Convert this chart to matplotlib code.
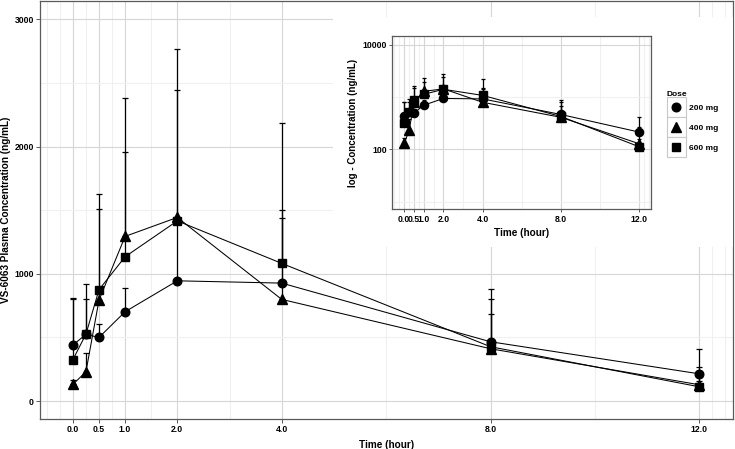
import numpy as np
import matplotlib
matplotlib.use("Agg")
import matplotlib.pyplot as plt
from matplotlib.patches import Rectangle
from matplotlib.lines import Line2D
from matplotlib.legend_handler import HandlerBase
from matplotlib.ticker import FixedLocator, NullFormatter

plt.rcParams['font.family'] = ['Liberation Sans', 'DejaVu Sans']

# donnees
time = [0, 0.25, 0.5, 1, 2, 4, 8, 12]
doses = ["200 mg", "400 mg", "600 mg"]
conc_200 = [440, 524, 500, 702, 945, 927, 466, 214]
conc_400 = [131, 230, 793, 1294, 1443, 799, 411, 128]
conc_600 = [325, 526, 875, 1134, 1416, 1082, 427, 112]
upper_200 = [807, 921, 605, 885, 1430, 1503, 877, 411]
upper_400 = [165, 379, 1508, 2378, 2765, 1435, 681, 269]
upper_600 = [800, 799, 1628, 1956, 2443, 2186, 799, 160]

xticks = [0, 0.5, 1, 2, 4, 8, 12]
xticklabels = ["0.0", "0.5", "1.0", "2.0", "4.0", "8.0", "12.0"]
xminor = [-0.5, -0.25, 0.25, 0.75, 1.5, 3, 6, 10, 12.25, 12.5]

series = [conc_200, conc_400, conc_600]
uppers = [upper_200, upper_400, upper_600]
markers = ['o', '^', 's']
msizes = [6.2, 7.2, 5.4]

border = '#5a5a5a'
major = '#d6d6d6'
minor = '#f0f0f0'


def style(ax, ticklen):
    for s in ax.spines.values():
        s.set_color(border)
        s.set_linewidth(0.9)
    ax.grid(which='major', color=major, lw=0.8)
    ax.grid(which='minor', color=minor, lw=0.8)
    ax.set_axisbelow(True)
    ax.tick_params(which='major', length=ticklen, width=0.7, color=border,
                   labelsize=6.2, labelcolor='black', pad=1.5)
    ax.tick_params(which='minor', length=0)
    for lab in ax.get_xticklabels() + ax.get_yticklabels():
        lab.set_fontweight('bold')


def draw(ax, cap, ms_scale):
    for y, up, m, ms in zip(series, uppers, markers, msizes):
        y = np.array(y, dtype=float)
        up = np.array(up, dtype=float)
        ax.plot(time, y, color='black', lw=0.75, zorder=3)
        ax.errorbar(time, y, yerr=[np.zeros_like(y), up - y], fmt='none',
                    ecolor='black', elinewidth=0.9, capsize=cap, capthick=0.9, zorder=3)
        ax.plot(time, y, ls='none', marker=m, ms=ms * ms_scale, color='black', zorder=4)


W, H = 735, 449
fig = plt.figure(figsize=(W / 100, H / 100), dpi=100)

# graphique principal
ax = fig.add_axes([40 / W, 1 - 419 / H, 693.3 / W, 418 / H])
draw(ax, 2.2, 1.0)
ax.set_xlim(-0.63, 12.65)
ax.set_ylim(-141, 3144)
ax.set_xticks(xticks)
ax.set_xticklabels(xticklabels)
ax.set_xticks(xminor, minor=True)
ax.set_yticks([0, 1000, 2000, 3000])
ax.set_yticks([500, 1500, 2500], minor=True)
style(ax, 3)
ax.set_xlabel("Time (hour)", fontsize=7.2, fontweight='bold', labelpad=4)
ax.set_ylabel("VS-6063 Plasma Concentration (ng/mL)", fontsize=7.2, fontweight='bold', labelpad=2)

# fond blanc de l'encart
fig.patches.append(Rectangle((333 / W, 1 - 247 / H), 400 / W, 230 / H,
                             transform=fig.transFigure, facecolor='white',
                             edgecolor='none', zorder=1))

# encart en echelle log
axi = fig.add_axes([392.3 / W, 1 - 209.3 / H, 258.7 / W, 173.6 / H])
axi.set_zorder(2)
axi.set_yscale('log')
draw(axi, 1.1, 0.95)
axi.set_xlim(-0.61, 12.6)
axi.set_ylim(7.1, 15070)
axi.set_xticks(xticks)
axi.set_xticklabels(xticklabels)
axi.set_xticks(xminor, minor=True)
axi.yaxis.set_major_locator(FixedLocator([100, 10000]))
axi.set_yticklabels(["100", "10000"])
axi.yaxis.set_minor_locator(FixedLocator([10, 1000]))
axi.yaxis.set_minor_formatter(NullFormatter())
style(axi, 2.5)
axi.set_xlabel("Time (hour)", fontsize=7.2, fontweight='bold', labelpad=3)
axi.set_ylabel("log - Concentration (ng/mL)", fontsize=7.0, fontweight='bold', labelpad=3)


class KeyBox(HandlerBase):
    def create_artists(self, legend, orig_handle, xdescent, ydescent,
                       width, height, fontsize, trans):
        cy = 0.36 * fontsize
        hb = 2.4 * fontsize
        box = Rectangle((-xdescent, cy - hb / 2), width, hb,
                        facecolor='white', edgecolor='#c8c8c8', lw=0.8, transform=trans)
        mk = Line2D([width / 2 - xdescent], [cy], ls='none',
                    marker=orig_handle.get_marker(), ms=orig_handle.get_markersize(),
                    color='black', transform=trans)
        return [box, mk]


handles = [Line2D([], [], ls='none', marker=m, ms=ms, color='black')
           for m, ms in zip(markers, msizes)]
fig.legend(handles, doses, loc='upper left', bbox_to_anchor=(662.5 / W, 1 - 86.5 / H),
           frameon=False, prop={'weight': 'bold', 'size': 6}, title='Dose',
           title_fontproperties={'weight': 'bold', 'size': 6},
           handlelength=2.34, handleheight=3.32, labelspacing=0,
           handletextpad=0.35, borderpad=0, alignment='left',
           handler_map={Line2D: KeyBox()})

fig.savefig("out.png", dpi=100)
